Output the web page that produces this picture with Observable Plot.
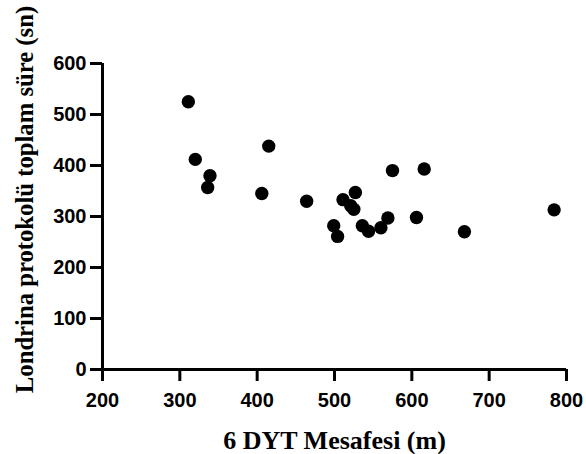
<!DOCTYPE html>
<html>
<head>
<meta charset="utf-8">
<script src="https://cdn.jsdelivr.net/npm/d3@7"></script>
<script src="https://cdn.jsdelivr.net/npm/@observablehq/plot@0.6"></script>
<style>
  html, body { margin: 0; padding: 0; background: #fff; }
</style>
</head>
<body>
<div id="chart"></div>
<script>
const distance = [311, 320, 339, 336, 415, 406, 464, 511, 527, 521, 525, 499, 504, 536, 544, 560, 569, 575, 616, 606, 668, 784];
const totalTime = [525, 412, 380, 357, 438, 345, 330, 333, 347, 321, 314, 282, 261, 282, 271, 278, 297, 390, 393, 298, 270, 313];
const xTicks = [200, 300, 400, 500, 600, 700, 800];
const yTicks = [0, 100, 200, 300, 400, 500, 600];
const xTitle = "6 DYT Mesafesi (m)";
const yTitle = "Londrina protokolü toplam süre (sn)";

const data = distance.map((d, i) => ({x: d, y: totalTime[i]}));

const chart = Plot.plot({
  width: 586,
  height: 454,
  marginLeft: 102,
  marginRight: 20,
  marginTop: 63,
  marginBottom: 85,
  x: {domain: [200, 800]},
  y: {domain: [0, 600]},
  style: {fontFamily: "Liberation Sans, Arial, sans-serif", fontWeight: "bold", fontSize: "20px", color: "black", background: "white"},
  marks: [
    Plot.axisX({ticks: xTicks, tickSize: 12, tickPadding: 11, strokeWidth: 3, label: null, tickFormat: d => String(d), fontSize: 20, fontWeight: "bold"}),
    Plot.axisY({ticks: yTicks, tickSize: 12, tickPadding: 4, strokeWidth: 3, label: null, tickFormat: d => String(d), fontSize: 20, fontWeight: "bold"}),
    Plot.ruleX([200], {y1: 0, y2: 600, strokeWidth: 3, stroke: "black"}),
    Plot.ruleY([0], {x1: 200, x2: 800, strokeWidth: 3, stroke: "black"}),
    Plot.dot(data, {x: "x", y: "y", r: 6.7, fill: "black", stroke: null}),
    Plot.text([xTitle], {frameAnchor: "bottom", dy: 79, lineAnchor: "bottom", textAnchor: "middle", fontFamily: "Liberation Serif, Times New Roman, serif", fontWeight: "bold", fontSize: 26, fill: "black"}),
    Plot.text([yTitle], {frameAnchor: "left", dx: -70, dy: -17, rotate: -90, lineAnchor: "bottom", textAnchor: "middle", fontFamily: "Liberation Serif, Times New Roman, serif", fontWeight: "bold", fontSize: 24.7, fill: "black"})
  ]
});
document.getElementById("chart").appendChild(chart);
</script>
</body>
</html>
